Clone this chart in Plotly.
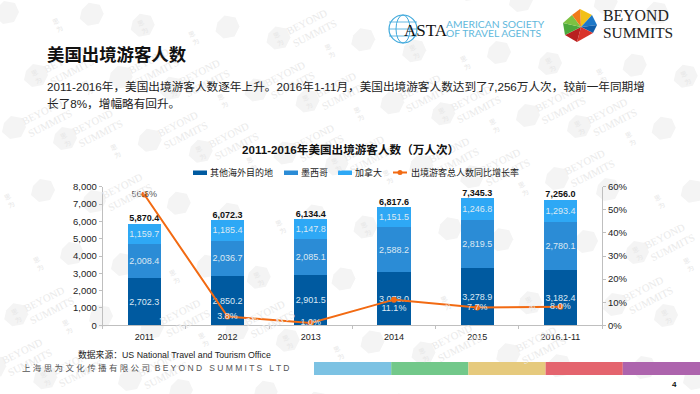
import plotly.graph_objects as go

W, H = 700, 394
years = ["2011", "2012", "2013", "2014", "2015", "2016.1-11"]
other = [2702.3, 2850.2, 2901.5, 3078.0, 3278.9, 3182.4]
mexico = [2008.4, 2036.7, 2085.1, 2588.2, 2819.5, 2780.1]
canada = [1159.7, 1185.4, 1147.8, 1151.5, 1246.8, 1293.4]
totals = [5870.4, 6072.3, 6134.4, 6817.6, 7345.3, 7256.0]
growth = [56.6, 3.8, 1.0, 11.1, 7.7, 8.0]
left_ticks = [0, 1000, 2000, 3000, 4000, 5000, 6000, 7000, 8000]
right_ticks = [0, 10, 20, 30, 40, 50, 60]
right_labels = ["0%", "10%", "20%", "30%", "40%", "50%", "60%"]
strip_colors = ["#7CC2E3", "#72C88A", "#E6CA7D", "#E4646E", "#AD64AD"]
series_names = ["其他海外目的地", "墨西哥", "加拿大"]
series_colors = ["#005AA0", "#2B8CD6", "#2EA8F5"]
line_name = "出境游客总人数同比增长率"
line_color = "#F26A12"

CN = "Liberation Sans, Noto Sans CJK SC, sans-serif"
SERIF = "Liberation Serif, DejaVu Serif, serif"
PL, PR, PT, PB = 102.7, 602.0, 186.7, 325.3

def px(x): return x / W
def py(y): return 1 - y / H

fig = go.Figure()
fmt = lambda v: [f"{x:,.1f}" for x in v]
for name, vals, col in zip(series_names, [other, mexico, canada], series_colors):
    fig.add_bar(x=years, y=vals, name=name, marker=dict(color=col, line_width=0), width=0.4,
                text=fmt(vals), textposition="inside", insidetextanchor="middle", textangle=0,
                constraintext="none", textfont=dict(size=9, color="#DCE8F3", family=CN),
                hoverinfo="skip", showlegend=False)
fig.add_scatter(x=years, y=totals, mode="text", text=fmt(totals), textposition="top center",
                textfont=dict(size=9, color="#111111", family=CN, weight="bold"),
                showlegend=False, hoverinfo="skip")
fig.add_scatter(x=years, y=growth, yaxis="y2", mode="lines+markers+text", name=line_name,
                line=dict(color=line_color, width=2), marker=dict(color=line_color, size=6),
                text=[f"{g:.1f}%" for g in growth],
                textposition=["middle center", "middle center", "middle center", "bottom center",
                              "middle center", "middle center"],
                textfont=dict(size=9, family=CN, color=["#555555"] + ["#DCE8F3"] * 5),
                hoverinfo="skip", showlegend=False)

axis_col = "#BFBFBF"
fig.update_layout(
    width=W, height=H, margin=dict(l=0, r=0, t=0, b=0), autosize=False,
    paper_bgcolor="white", plot_bgcolor="rgba(0,0,0,0)", barmode="stack", bargap=0.6,
    font=dict(family=CN, color="#222222"), showlegend=False,
    xaxis=dict(domain=[px(PL), px(PR)], type="category", tickson="boundaries", ticks="outside",
               ticklen=3, tickcolor=axis_col, linecolor=axis_col, showline=True, showgrid=False,
               automargin=False, ticklabelstandoff=3, tickfont=dict(size=9, color="#222222")),
    yaxis=dict(domain=[py(PB), py(PT)], range=[0, 8000], tickvals=left_ticks, tickformat=",d",
               ticks="outside", ticklen=3, tickcolor=axis_col, linecolor=axis_col, showline=True,
               automargin=False, showgrid=False, zeroline=False, tickfont=dict(size=9.5, color="#222222")),
    yaxis2=dict(overlaying="y", side="right", range=[0, 60], tickvals=right_ticks, ticktext=right_labels,
                ticks="outside", ticklen=3, tickcolor=axis_col, linecolor=axis_col, showline=True,
                automargin=False, showgrid=False, zeroline=False, tickfont=dict(size=9.5, color="#222222")),
)

shapes, notes = [], []

def poly(points, fill, layer="below"):
    d = "M" + " L".join(f"{px(x):.5f},{py(y):.5f}" for x, y in points) + " Z"
    shapes.append(dict(type="path", path=d, xref="paper", yref="paper", fillcolor=fill,
                       line_width=0, layer=layer))

def note(x, y, text, size, color="#222222", family=CN, anchor="left", **kw):
    font = dict(size=size, color=color, family=family)
    if "weight" in kw:
        font["weight"] = kw.pop("weight")
    notes.append(dict(x=px(x), y=py(y), xref="paper", yref="paper", text=text, showarrow=False,
                      xanchor=anchor, yanchor="middle", font=font, align="left", borderpad=0, **kw))

cat_w = (PR - PL) / len(years)
bars = [(PL + cat_w * (i + .5) - cat_w * .2, PL + cat_w * (i + .5) + cat_w * .2,
         PB - t / 8000 * (PB - PT) - 14, PB) for i, t in enumerate(totals)]
keep_clear = bars + [(314, 700, 362, 375), (80, 100, 184, 330), (604, 625, 184, 330),
                     (388, 680, 8, 42), (670, 680, 379, 389)]

def hits(x, y, rx, ry):
    return any(x + rx > x0 and x - rx < x1 and y + ry > y0 and y - ry < y1
               for x0, x1, y0, y1 in keep_clear)

# watermark lattice
hexa = [(-10, -4), (-3, -11), (8, -9), (12, 0), (7, 10), (-4, 12), (-12, 5)]
for i in range(-6, 7):
    for j in range(-4, 8):
        for sx, sy in [(0, 0), (51, 11)]:
            x = 14 + sx + i * 135.75 + j * 29
            y = 127 + sy + i * 12.75 + j * 63
            if x < -50 or x > 750 or y < -40 or y > 430:
                continue
            poly([(x + a, y + b) for a, b in hexa], "#F4F4F4")
            tx, ty = x + 33, y - 10
            if 26 < tx < 674 and 20 < ty < 374 and not hits(tx, ty, 22, 16):
                note(tx, ty, "BEYOND<br>SUMMITS", 10.5, "#EAEAEA", SERIF, "center", textangle=-27)
            cx, cy = x + 51, y + 12
            if 8 < cx < 692 and 10 < cy < 384 and not hits(cx, cy, 8, 8):
                note(cx, cy, "思<br>为", 6.5, "#E6E6E6", "Noto Sans CJK SC", "center", textangle=-27)

# heading and body
note(46, 55, "美国出境游客人数", 17.4, "#111111", weight="bold")
note(46, 87, "2011-2016年，美国出境游客人数逐年上升。2016年1-11月，美国出境游客人数达到了7,256万人次，较前一年同期增", 11.65, "#222222")
note(46, 103, "长了8%，增幅略有回升。", 11.65, "#222222")
note(350, 149, "2011-2016年美国出境游客人数（万人次）", 11.6, "#111111", anchor="center", weight="bold")
note(77, 354, "数据来源：US National Travel and Tourism Office", 8.8, "#222222")
note(21, 368, "上 海 思 为 文 化 传 播 有 限 公 司  B E Y O N D   S U M M I T S   L T D", 8.5, "#555555")
note(674, 384, "4", 8, "#111111", "Liberation Sans", "center", weight="bold")

# legend key
key_x = [193, 284, 338]
for name, col, kx in zip(series_names, series_colors, key_x):
    poly([(kx, 170.5), (kx + 14, 170.5), (kx + 14, 175), (kx, 175)], col, "above")
    note(kx + 15.5, 172.5, name, 9, "#222222")
shapes.append(dict(type="line", xref="paper", yref="paper", x0=px(393), x1=px(407), y0=py(172.5), y1=py(172.5),
                   line=dict(color=line_color, width=2), layer="above"))
shapes.append(dict(type="circle", xref="paper", yref="paper", x0=px(397.5), x1=px(402.5), y0=py(175), y1=py(170),
                   fillcolor=line_color, line_width=0, layer="above"))
note(410, 172.5, line_name, 9, "#222222")

# colour strip
for k, c in enumerate(strip_colors):
    x0 = 314 + k * 77.2
    poly([(x0, 362), (x0 + 77.2, 362), (x0 + 77.2, 375), (x0, 375)], c, "above")

# ASTA mark
shapes.append(dict(type="circle", xref="paper", yref="paper", x0=px(389), x1=px(417), y0=py(43), y1=py(15),
                   line=dict(color="#3FA9DC", width=1.2), layer="above"))
shapes.append(dict(type="circle", xref="paper", yref="paper", x0=px(396), x1=px(410), y0=py(43), y1=py(15),
                   line=dict(color="#3FA9DC", width=1), layer="above"))
for yy in (22, 29, 36):
    poly([(389, yy - .4), (417, yy - .4), (417, yy + .4), (389, yy + .4)], "#3FA9DC", "above")
note(403, 30, "ASTA", 17, "#111111", SERIF)
note(445, 24, "AMERICAN SOCIETY", 10.3, "#5FB8DC", "Lato, Liberation Sans")
note(445, 33, "OF TRAVEL AGENTS", 10.3, "#5FB8DC", "Lato, Liberation Sans")

# Beyond Summits mark
c0 = (581, 27)
rim = [(580, 9), (592, 15), (597, 25), (593, 33), (577, 42), (565, 35), (563, 23), (572, 15)]
rim_cols = ["#F2C018", "#1E78C8", "#0F5CA8", "#D9342B", "#B82020", "#4CA83C", "#7CC242", "#F07A1A"]
for n, col in enumerate(rim_cols):
    poly([c0, rim[n], rim[(n + 1) % len(rim)]], col, "above")
note(602, 15, "BEYOND", 15.8, "#222222", SERIF)
note(602, 33, "SUMMITS", 15.4, "#222222", SERIF)

fig.update_layout(shapes=shapes, annotations=notes)
fig.write_html("out.html", config=dict(displayModeBar=False),
               post_script="document.body.style.margin='0';document.body.style.overflow='hidden';")
